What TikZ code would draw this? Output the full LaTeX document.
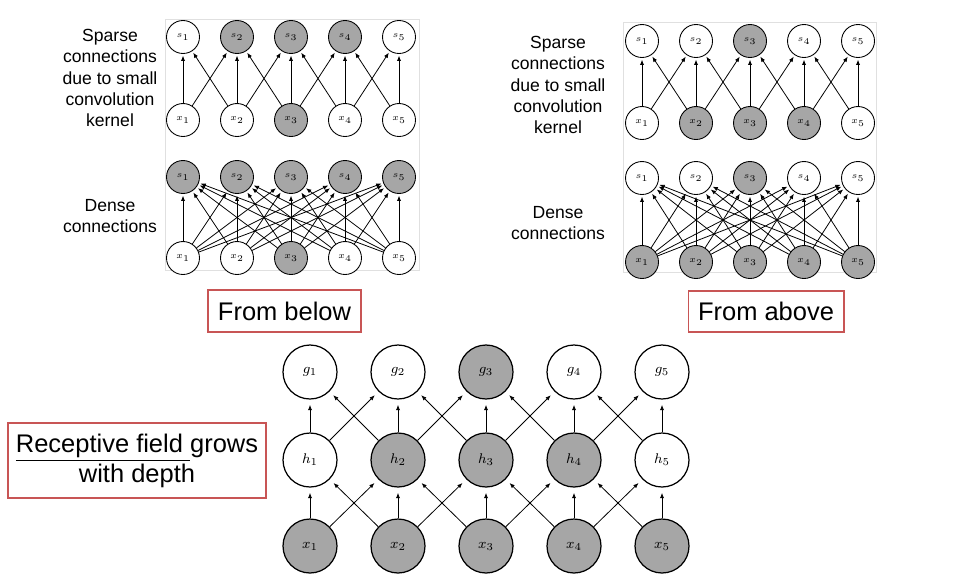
\documentclass[tikz,border=0pt]{standalone}
\usepackage{fontspec}
\setmainfont{Liberation Sans}
\usetikzlibrary{arrows.meta}
\definecolor{boxred}{RGB}{200,85,85}
\definecolor{unitgray}{RGB}{166,166,166}
\tikzset{
  small/.style={circle,draw,inner sep=0pt,minimum size=0.66cm,line width=0.5pt,font=\tiny},
  big/.style={circle,draw,inner sep=0pt,minimum size=1.08cm,line width=0.7pt,font=\footnotesize},
  lit/.style={fill=unitgray},
  dim/.style={fill=white},
  conn/.style={-{Latex[length=3pt,width=2.4pt]},line width=0.45pt,shorten >=1pt},
  panel/.style={draw=black!12,line width=0.5pt},
  tag/.style={draw=boxred,line width=0.6pt,font=\fontsize{14.5}{17}\selectfont,align=center},
  side/.style={font=\fontsize{10}{12}\selectfont,align=center}
}

\begin{document}
\begin{tikzpicture}[x=0.02cm,y=-0.02cm]
\useasboundingbox (0,0) rectangle (962,582);
% from below
\draw[panel] (165,19) rectangle (419,270);
\node[side] (lsparse) at (110,78) {Sparse\\connections\\due to small\\convolution\\kernel};
\node[side] (ldense) at (110,216) {Dense\\connections};
\foreach \i/\f in {1/dim,2/lit,3/lit,4/lit,5/dim} \node[small,\f] (ls\i) at ({129+54*\i},37) {$s_\i$};
\foreach \i/\f in {1/dim,2/dim,3/lit,4/dim,5/dim} \node[small,\f] (lx\i) at ({129+54*\i},120) {$x_\i$};
\foreach \i in {1,...,5} \node[small,lit] (lds\i) at ({129+54*\i},177) {$s_\i$};
\foreach \i/\f in {1/dim,2/dim,3/lit,4/dim,5/dim} \node[small,\f] (ldx\i) at ({129+54*\i},258) {$x_\i$};
\foreach \i in {1,...,5} \draw[conn] (lx\i) -- (ls\i);
\foreach \i [evaluate=\i as \j using int(\i+1)] in {1,...,4} {
  \draw[conn] (lx\i) -- (ls\j);
  \draw[conn] (lx\j) -- (ls\i);
}
\foreach \i in {1,...,5} \foreach \j in {1,...,5} \draw[conn] (ldx\i) -- (lds\j);
\node[tag,minimum width=3.06cm,minimum height=0.84cm] (below) at (284.5,311) {From below};

% from above
\draw[panel] (623,22) rectangle (876,272);
\node[side] (rsparse) at (558,85) {Sparse\\connections\\due to small\\convolution\\kernel};
\node[side] (rdense) at (558,223) {Dense\\connections};
\foreach \i/\f in {1/dim,2/dim,3/lit,4/dim,5/dim} \node[small,\f] (rs\i) at ({588+54*\i},41) {$s_\i$};
\foreach \i/\f in {1/dim,2/lit,3/lit,4/lit,5/dim} \node[small,\f] (rx\i) at ({588+54*\i},123) {$x_\i$};
\foreach \i/\f in {1/dim,2/dim,3/lit,4/dim,5/dim} \node[small,\f] (rds\i) at ({588+54*\i},178) {$s_\i$};
\foreach \i in {1,...,5} \node[small,lit] (rdx\i) at ({588+54*\i},262) {$x_\i$};
\foreach \i in {1,...,5} \draw[conn] (rx\i) -- (rs\i);
\foreach \i [evaluate=\i as \j using int(\i+1)] in {1,...,4} {
  \draw[conn] (rx\i) -- (rs\j);
  \draw[conn] (rx\j) -- (rs\i);
}
\foreach \i in {1,...,5} \foreach \j in {1,...,5} \draw[conn] (rdx\i) -- (rds\j);
\node[tag,minimum width=3.12cm,minimum height=0.82cm] (above) at (766,311.5) {From above};

% receptive field
\node[tag,minimum width=5.16cm,minimum height=1.5cm] (field) at (137,460.5) {\underline{Receptive field\ }grows\\with depth};
\foreach \i/\f in {1/dim,2/dim,3/lit,4/dim,5/dim} \node[big,\f] (g\i) at ({222+88*\i},372) {$g_\i$};
\foreach \i/\f in {1/dim,2/lit,3/lit,4/lit,5/dim} \node[big,\f] (h\i) at ({222+88*\i},460) {$h_\i$};
\foreach \i in {1,...,5} \node[big,lit] (x\i) at ({222+88*\i},546) {$x_\i$};
\foreach \i in {1,...,5} {
  \draw[conn,shorten >=3pt] (h\i) -- (g\i);
  \draw[conn,shorten >=3pt] (x\i) -- (h\i);
}
\foreach \i [evaluate=\i as \j using int(\i+1)] in {1,...,4} {
  \draw[conn,shorten >=3pt] (h\i) -- (g\j);
  \draw[conn,shorten >=3pt] (h\j) -- (g\i);
  \draw[conn,shorten >=3pt] (x\i) -- (h\j);
  \draw[conn,shorten >=3pt] (x\j) -- (h\i);
}
\end{tikzpicture}
\end{document}
